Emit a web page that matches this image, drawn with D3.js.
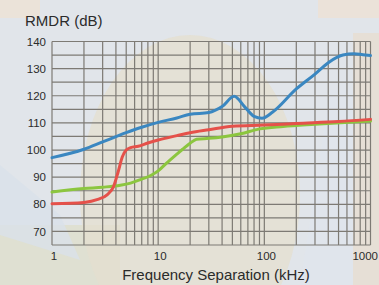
<!DOCTYPE html>
<html>
<head>
<meta charset="utf-8">
<script src="https://cdn.jsdelivr.net/npm/d3@7"></script>
<style>
  body { margin: 0; background: #e1e5ea; }
  svg { display: block; font-family: "Liberation Sans", Arial, sans-serif; }
</style>
</head>
<body>
<svg id="chart" width="379" height="285"></svg>
<script>
// values (kHz, dB)
const blueFreq = [1, 2, 3, 5, 7, 10, 15, 20, 30, 40, 52, 65, 80, 95, 120, 200, 300, 400, 550, 700, 850, 1000]
const blueVal  = [97.2, 100.3, 103, 106.4, 108.4, 110.2, 111.8, 113.2, 113.8, 116, 119.8, 116, 112.4, 111.7, 114, 122.5, 128, 132.2, 135, 135.5, 135.1, 134.8]

const redFreq = [1, 2, 2.7, 3.3, 3.8, 4.2, 4.6, 5, 5.5, 6.5, 8, 10, 15, 20, 30, 50, 100, 200, 500, 1000]
const redVal  = [80.2, 80.7, 81.8, 83.5, 86.5, 92, 97.5, 100, 100.9, 101.4, 102.6, 103.7, 105.3, 106.4, 107.5, 108.8, 109.2, 109.8, 110.5, 111.3]

const greenFreq = [1, 2, 3, 4.4, 5.5, 7, 8.5, 10, 12, 15, 17, 20, 23, 30, 40, 60, 90, 150, 300, 1000]
const greenVal  = [84.5, 85.8, 86.3, 87, 87.8, 89.3, 90.6, 92.3, 95.2, 98.5, 100.3, 102.5, 104, 104.3, 104.8, 106, 107.8, 108.7, 109.5, 110.7]

const xTicks = [1, 10, 100, 1000]
const yTicks = [70, 80, 90, 100, 110, 120, 130, 140]

const svg = d3.select('#chart')
const W = 379, H = 285

// faded decoration in the background
const bg = svg.append('g')
bg.append('rect').attr('width', W).attr('height', H).attr('fill', '#e1e5ea')
bg.append('rect').attr('x', 0).attr('y', 0).attr('width', 40).attr('height', 18).attr('fill', '#ebe3d9')
bg.append('rect').attr('x', 318).attr('y', 0).attr('width', 61).attr('height', 18).attr('fill', '#ebe2d9')
bg.append('rect').attr('x', 353).attr('y', 33).attr('width', 26).attr('height', 252).attr('fill', '#e6dfd6')
bg.append('rect').attr('x', 0).attr('y', 225).attr('width', 120).attr('height', 60).attr('fill', '#dfe0d2')
bg.append('ellipse').attr('cx', 190).attr('cy', 195).attr('rx', 110).attr('ry', 160)
  .attr('fill', '#e4dfcf').attr('opacity', 0.75)
bg.append('path').attr('d', 'M0,165 L60,215 L80,260 L0,235 Z').attr('fill', '#d9e1ea').attr('opacity', 0.8)
bg.append('path').attr('d', 'M300,285 L330,90 L353,90 L353,285 Z').attr('fill', '#dfe6ed').attr('opacity', 0.7)

const x = d3.scaleLog().domain([1, 1000]).range([52, 370.5])
const y = d3.scaleLinear().domain([65, 140]).range([245, 41.5])

// grid
const vLines = []
for (let d = 1; d < 1000; d *= 10) {
  for (let k = 1; k < 10; k++) vLines.push(d * k)
}
vLines.push(1000)
const grid = svg.append('g').attr('stroke', '#7d7a74').attr('stroke-width', 1.2)
grid.selectAll('line.v').data(vLines).join('line')
  .attr('class', 'v')
  .attr('x1', d => x(d)).attr('x2', d => x(d))
  .attr('y1', y(140)).attr('y2', y(65))
grid.selectAll('line.h').data(d3.range(65, 141, 5)).join('line')
  .attr('class', 'h')
  .attr('x1', x(1)).attr('x2', x(1000))
  .attr('y1', d => y(d)).attr('y2', d => y(d))

// axes labels
svg.append('g').selectAll('text').data(yTicks).join('text')
  .attr('x', 46).attr('y', d => y(d)).attr('dy', '0.36em')
  .attr('text-anchor', 'end').attr('font-size', 11.5).attr('fill', '#2b2b2b')
  .text(d => d)
svg.append('g').selectAll('text').data(xTicks).join('text')
  .attr('x', d => d === 1000 ? W - 1 : x(d) + 2).attr('y', 260)
  .attr('text-anchor', d => d === 1000 ? 'end' : 'middle')
  .attr('font-size', 11.5).attr('fill', '#2b2b2b')
  .text(d => d)

svg.append('text').attr('x', 25).attr('y', 26).attr('font-size', 15).attr('fill', '#2b2b2b')
  .text('RMDR (dB)')
svg.append('text').attr('x', 216).attr('y', 280).attr('text-anchor', 'middle')
  .attr('font-size', 15).attr('fill', '#2b2b2b')
  .text('Frequency Separation (kHz)')

// curves
const line = d3.line().x(d => x(d[0])).y(d => y(d[1])).curve(d3.curveMonotoneX)
const series = [
  {f: greenFreq, v: greenVal, color: '#8cc63f'},
  {f: redFreq, v: redVal, color: '#e5514a'},
  {f: blueFreq, v: blueVal, color: '#3a87c1'}
]
series.forEach(s => {
  svg.append('path')
    .attr('d', line(d3.zip(s.f, s.v)))
    .attr('fill', 'none')
    .attr('stroke', s.color)
    .attr('stroke-width', 3)
    .attr('stroke-linecap', 'round')
})
</script>
</body>
</html>
